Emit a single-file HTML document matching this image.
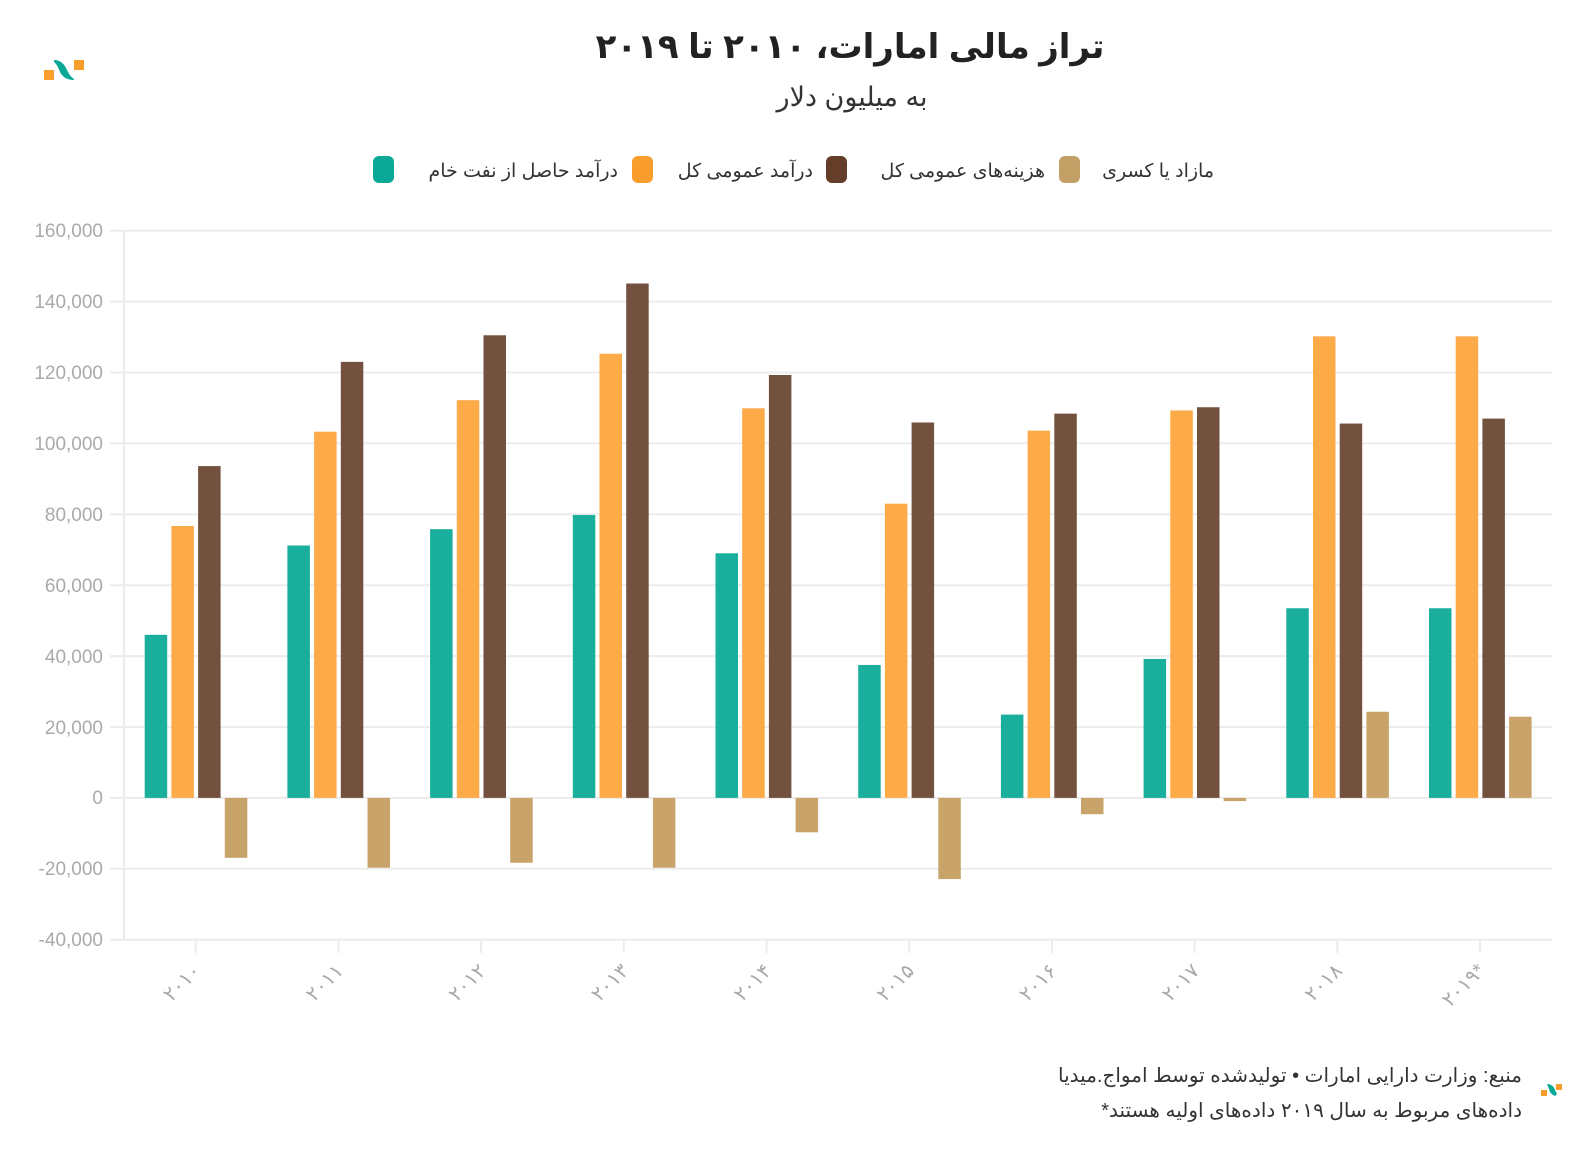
<!DOCTYPE html>
<html><head><meta charset="utf-8"><style>
body{margin:0;background:#fff;width:1592px;height:1150px;overflow:hidden}
text{font-family:"Liberation Sans","DejaVu Sans",sans-serif}
</style></head><body>
<svg width="1592" height="1150" xmlns="http://www.w3.org/2000/svg">
<rect x="44" y="70" width="10" height="10" fill="#f99d2c"/>
<path d="M54 60 Q62 60 66 68 Q70 77 74 79 L74 80 Q64 80 60 72 Q57 64 54 62Z" fill="#0aa896"/>
<rect x="74" y="60" width="10" height="10" fill="#f99d2c"/>
<text x="850" y="58" text-anchor="middle" font-size="34" font-weight="bold" fill="#222" font-family="'DejaVu Sans',sans-serif">تراز مالی امارات، ۲۰۱۰ تا ۲۰۱۹</text>
<text x="852" y="106" text-anchor="middle" font-size="27" fill="#333" font-family="'DejaVu Sans',sans-serif">به میلیون دلار</text>
<g font-size="19" fill="#333" font-family="'DejaVu Sans',sans-serif" text-anchor="end">
<rect x="1059" y="156" width="21" height="27" rx="6" fill="#c2a066"/><text x="1214" y="177">مازاد یا کسری</text>
<rect x="826" y="156" width="21" height="27" rx="6" fill="#643e29"/><text x="1045" y="177">هزینه‌های عمومی کل</text>
<rect x="632" y="156" width="21" height="27" rx="6" fill="#f99d2c"/><text x="813" y="177">درآمد عمومی کل</text>
<rect x="373" y="156" width="21" height="27" rx="6" fill="#0aa896"/><text x="618" y="177">درآمد حاصل از نفت خام</text>
</g>
<g stroke="#ececec" stroke-width="2">
<line x1="110" x2="1552" y1="230.7" y2="230.7"/>
<line x1="110" x2="1552" y1="301.6" y2="301.6"/>
<line x1="110" x2="1552" y1="372.5" y2="372.5"/>
<line x1="110" x2="1552" y1="443.4" y2="443.4"/>
<line x1="110" x2="1552" y1="514.3" y2="514.3"/>
<line x1="110" x2="1552" y1="585.2" y2="585.2"/>
<line x1="110" x2="1552" y1="656.1" y2="656.1"/>
<line x1="110" x2="1552" y1="727" y2="727"/>
<line x1="110" x2="1552" y1="797.9" y2="797.9"/>
<line x1="110" x2="1552" y1="868.8" y2="868.8"/>
<line x1="110" x2="1552" y1="939.7" y2="939.7"/>
<line x1="124" x2="124" y1="230" y2="940"/>
</g>
<g font-size="19" fill="#aaa" text-anchor="end">
<text x="103" y="237">160,000</text><text x="103" y="308">140,000</text><text x="103" y="379">120,000</text>
<text x="103" y="450">100,000</text><text x="103" y="521">80,000</text><text x="103" y="592">60,000</text>
<text x="103" y="663">40,000</text><text x="103" y="734">20,000</text><text x="103" y="804">0</text>
<text x="103" y="875">-20,000</text><text x="103" y="946">-40,000</text>
</g>
<g id="bars"></g>
<g id="ticks" stroke="#ececec" stroke-width="2"></g>
<g id="labels" font-size="20" fill="#aaa" font-family="'DejaVu Sans',sans-serif"></g>
<g font-family="'DejaVu Sans',sans-serif" fill="#333" font-size="20" text-anchor="end">
<text x="1522" y="1082">منبع: وزارت دارایی امارات • تولیدشده توسط امواج.میدیا</text>
<text x="1522" y="1117">*داده‌های مربوط به سال ۲۰۱۹ داده‌های اولیه هستند</text>
</g>
<rect x="1541" y="1090" width="6" height="6" fill="#f99d2c"/>
<path d="M1547 1084 Q1553 1084 1555 1090 L1557 1094 L1555 1096 Q1550 1094 1549 1089Z" fill="#0aa896"/>
<rect x="1556" y="1084" width="6" height="6" fill="#f99d2c"/>
</svg>
<script>
var d=[[46000,76700,93600,-16900],[71200,103300,123000,-19700],[75800,112200,130500,-18300],[79800,125300,145100,-19700],[69000,109900,119300,-9700],[37500,83000,105900,-22900],[23500,103600,108400,-4600],[39200,109300,110200,-900],[53500,130200,105600,24300],[53500,130200,107000,22900]];
var c=["#1aae9c","#fdaa48","#73513f","#c8a46a"];
var lab=["۲۰۱۰","۲۰۱۱","۲۰۱۲","۲۰۱۳","۲۰۱۴","۲۰۱۵","۲۰۱۶","۲۰۱۷","۲۰۱۸","۲۰۱۹*"];
var ns="http://www.w3.org/2000/svg",b=document.getElementById("bars"),t=document.getElementById("ticks"),l=document.getElementById("labels");
var z=797.9,k=70.9/20000;
for(var i=0;i<10;i++){var cx=195.7+i*142.7;
for(var j=0;j<4;j++){var v=d[i][j],h=Math.abs(v)*k,r=document.createElementNS(ns,"rect");
r.setAttribute("x",cx-51+j*26.7);r.setAttribute("width",22.5);r.setAttribute("y",v>=0?z-h:z);r.setAttribute("height",h);r.setAttribute("fill",c[j]);b.appendChild(r);}
var ln=document.createElementNS(ns,"line");ln.setAttribute("x1",cx);ln.setAttribute("x2",cx);ln.setAttribute("y1",940);ln.setAttribute("y2",953);t.appendChild(ln);
var tx=document.createElementNS(ns,"text");tx.setAttribute("text-anchor","end");tx.setAttribute("transform","translate("+(cx+6)+",972) rotate(-45)");tx.textContent=lab[i];l.appendChild(tx);}
</script>
</body></html>
